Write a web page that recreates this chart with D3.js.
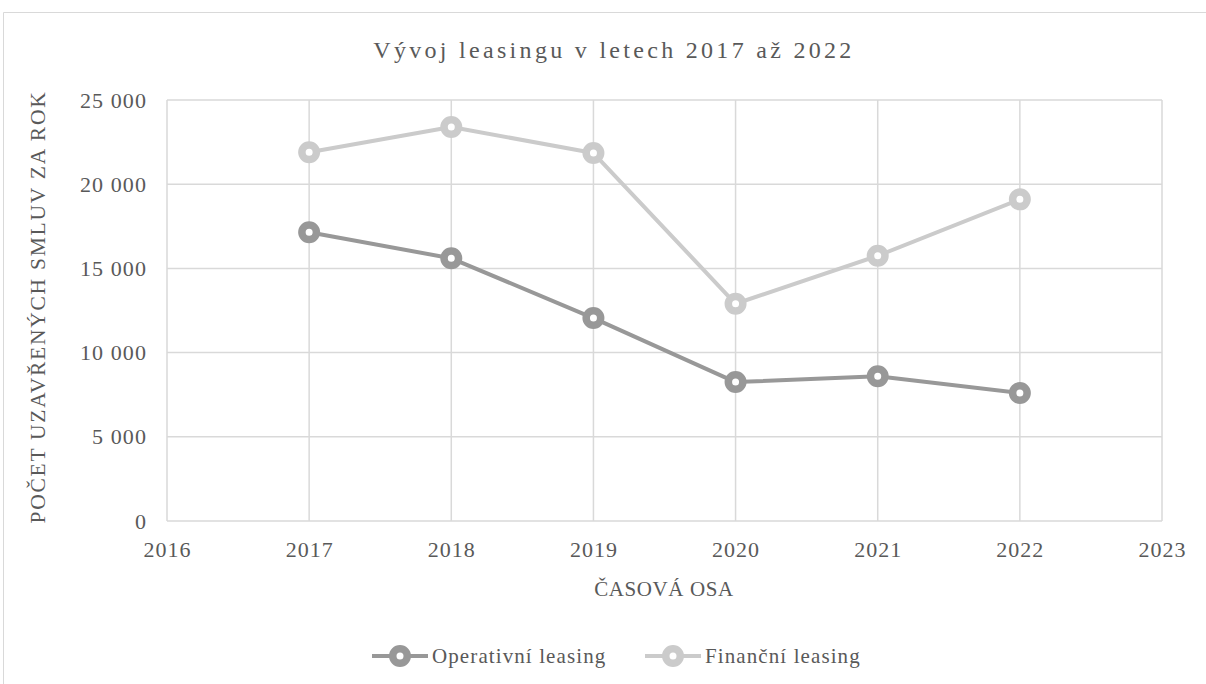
<!DOCTYPE html>
<html lang="cs">
<head>
    <meta charset="UTF-8">
    <title>Vývoj leasingu v letech 2017 až 2022</title>
    <script src="https://cdnjs.cloudflare.com/ajax/libs/d3/7.8.5/d3.min.js"></script>
    <style>
        body { margin: 0; background: #fff; }
    </style>
</head>
<body>
    <div id="chart"></div>
    <script>
        // Data
        const years = [2017, 2018, 2019, 2020, 2021, 2022];
        const operativni = [17150, 15600, 12050, 8250, 8600, 7600];
        const financni = [21900, 23400, 21850, 12900, 15750, 19100];
        const xTicks = [2016, 2017, 2018, 2019, 2020, 2021, 2022, 2023];
        const yTicks = [0, 5000, 10000, 15000, 20000, 25000];
        const seriesNames = ["Operativní leasing", "Finanční leasing"];
        const seriesColors = ["#989898", "#cbcbcb"];

        const width = 1206, height = 684;
        const margin = { left: 167, right: 44, top: 100, bottom: 163 };
        const FONT = "Liberation Serif";
        const TEXT = "#595959";

        const svg = d3.select("#chart").append("svg")
            .attr("width", width)
            .attr("height", height);

        // outer frame
        svg.append("path")
            .attr("d", `M3.5,${height}V12.5H${width}`)
            .attr("fill", "none")
            .attr("stroke", "#d9d9d9")
            .attr("stroke-width", 1);

        const x = d3.scaleLinear().domain([2016, 2023]).range([margin.left, width - margin.right]);
        const y = d3.scaleLinear().domain([0, 25000]).range([height - margin.bottom, margin.top]);

        const fmt = d => d3.format(",")(d).replace(/,/g, " ");

        // gridlines
        svg.append("g")
            .selectAll("line")
            .data(yTicks)
            .join("line")
            .attr("x1", x(2016)).attr("x2", x(2023))
            .attr("y1", d => y(d)).attr("y2", d => y(d))
            .attr("stroke", "#d9d9d9").attr("stroke-width", 1.5);

        svg.append("g")
            .selectAll("line")
            .data(xTicks)
            .join("line")
            .attr("x1", d => x(d)).attr("x2", d => x(d))
            .attr("y1", y(0)).attr("y2", y(25000))
            .attr("stroke", "#d9d9d9").attr("stroke-width", 1.5);

        // tick labels
        const yAxis = svg.append("g")
            .attr("transform", `translate(${margin.left},0)`)
            .call(d3.axisLeft(y).tickValues(yTicks).tickFormat(fmt).tickSize(0).tickPadding(20));
        yAxis.select(".domain").remove();
        yAxis.selectAll("text")
            .attr("fill", TEXT)
            .style("font-family", FONT)
            .style("font-size", "22px")
            .style("letter-spacing", "1.1px");

        const xAxis = svg.append("g")
            .attr("transform", `translate(0,${y(0)})`)
            .call(d3.axisBottom(x).tickValues(xTicks).tickFormat(d3.format("d")).tickSize(0).tickPadding(20));
        xAxis.select(".domain").remove();
        xAxis.selectAll("text")
            .attr("fill", TEXT)
            .style("font-family", FONT)
            .style("font-size", "22px")
            .style("letter-spacing", "1px");

        function label(sel, size, spacing) {
            return sel.attr("fill", TEXT)
                .style("font-family", FONT)
                .style("font-size", size + "px")
                .style("letter-spacing", spacing + "px");
        }

        // title
        label(svg.append("text"), 24, 3.3)
            .attr("x", 614).attr("y", 58)
            .attr("text-anchor", "middle")
            .text("Vývoj leasingu v letech 2017 až 2022");

        // axis titles
        label(svg.append("text"), 21, 0.6)
            .attr("x", 664).attr("y", 596)
            .attr("text-anchor", "middle")
            .text("ČASOVÁ OSA");

        label(svg.append("text"), 21.5, 1.75)
            .attr("transform", `translate(45,307) rotate(-90)`)
            .attr("text-anchor", "middle")
            .text("POČET UZAVŘENÝCH SMLUV ZA ROK");

        // series
        const seriesData = [operativni, financni];
        const line = d3.line().x((d, i) => x(years[i])).y(d => y(d));

        // lighter series first so the darker one sits on top
        [1, 0].forEach(s => {
            const g = svg.append("g");
            g.append("path")
                .datum(seriesData[s])
                .attr("d", line)
                .attr("fill", "none")
                .attr("stroke", seriesColors[s])
                .attr("stroke-width", 4)
                .attr("stroke-linejoin", "round");
            g.selectAll("circle")
                .data(seriesData[s])
                .join("circle")
                .attr("cx", (d, i) => x(years[i]))
                .attr("cy", d => y(d))
                .attr("r", 7.25)
                .attr("fill", "#fff")
                .attr("stroke", seriesColors[s])
                .attr("stroke-width", 7.5);
        });

        // legend
        const legendX = [372, 645];
        const legend = svg.append("g");
        seriesNames.forEach((name, i) => {
            const lg = legend.append("g").attr("transform", `translate(${legendX[i]},656)`);
            lg.append("line")
                .attr("x1", 0).attr("x2", 56)
                .attr("y1", 0).attr("y2", 0)
                .attr("stroke", seriesColors[i]).attr("stroke-width", 4);
            lg.append("circle")
                .attr("cx", 28).attr("cy", 0).attr("r", 7.25)
                .attr("fill", "#fff")
                .attr("stroke", seriesColors[i]).attr("stroke-width", 7.5);
            label(lg.append("text"), 21, 1.1)
                .attr("x", 60).attr("y", 7)
                .text(name);
        });
    </script>
</body>
</html>
